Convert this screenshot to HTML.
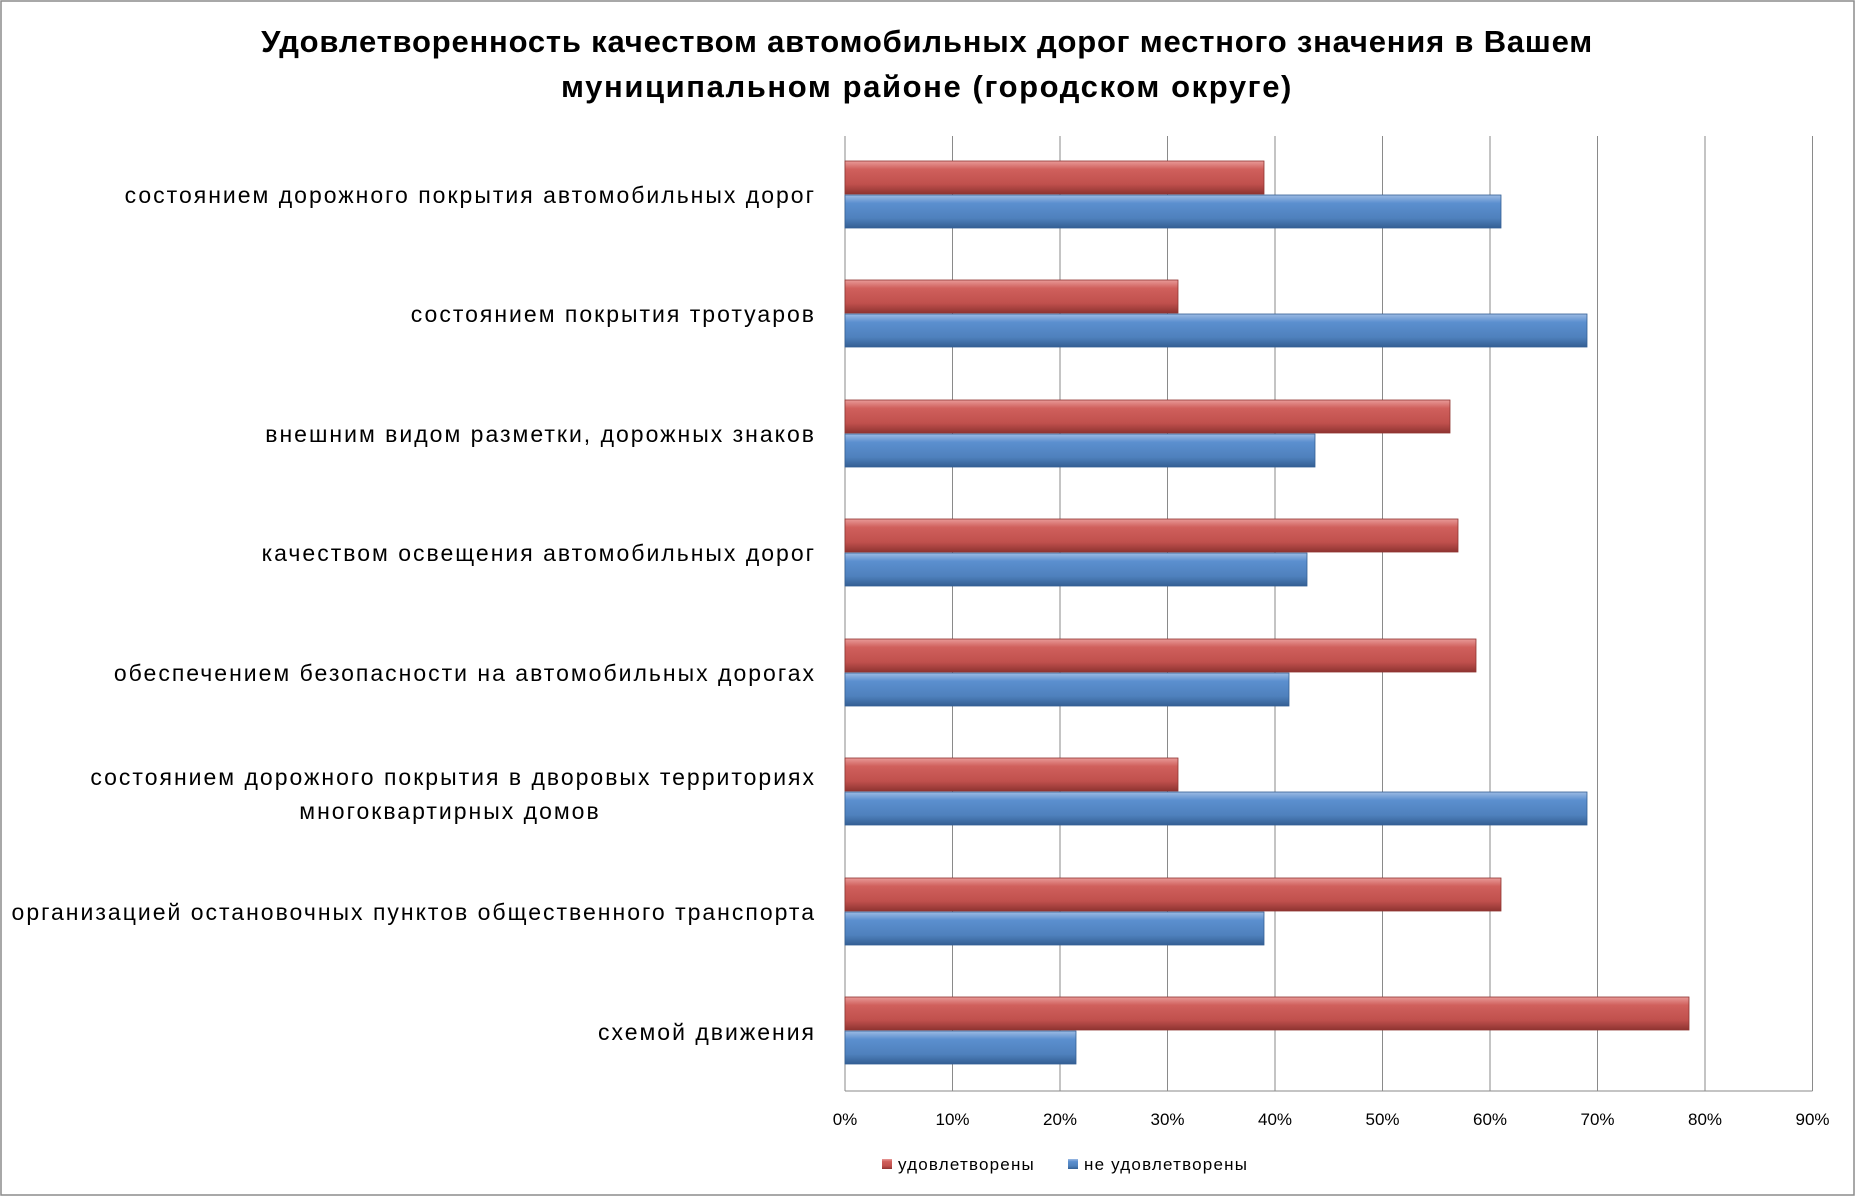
<!DOCTYPE html>
<html><head><meta charset="utf-8"><style>
html,body{margin:0;padding:0;background:#fff}
svg{display:block}
text{font-family:"Liberation Sans","DejaVu Sans",sans-serif}
</style></head><body>
<svg width="1855" height="1196" viewBox="0 0 1855 1196" xmlns="http://www.w3.org/2000/svg">
<defs>
<linearGradient id="r" x1="0" y1="0" x2="0" y2="1">
<stop offset="0" stop-color="#e89a98"/><stop offset="0.25" stop-color="#d0605c"/><stop offset="0.7" stop-color="#c0504d"/><stop offset="1" stop-color="#8f3431"/></linearGradient>
<linearGradient id="b" x1="0" y1="0" x2="0" y2="1">
<stop offset="0" stop-color="#9dbbe3"/><stop offset="0.25" stop-color="#5b8fcf"/><stop offset="0.7" stop-color="#4f81bd"/><stop offset="1" stop-color="#345f94"/></linearGradient>
</defs>
<rect x="1" y="1" width="1853" height="1194" fill="#fff" stroke="#8c8c8c" stroke-width="1.5"/>
<text x="927" y="52" font-size="31" font-weight="bold" text-anchor="middle" letter-spacing="0.8">Удовлетворенность качеством автомобильных дорог местного значения в Вашем</text>
<text x="927" y="97" font-size="31" font-weight="bold" text-anchor="middle" letter-spacing="1.6">муниципальном районе (городском округе)</text>
<g stroke="#8a8a8a" stroke-width="1">
<line x1="845" y1="136" x2="845" y2="1091"/>
<line x1="952.5" y1="136" x2="952.5" y2="1091"/>
<line x1="1060" y1="136" x2="1060" y2="1091"/>
<line x1="1167.5" y1="136" x2="1167.5" y2="1091"/>
<line x1="1275" y1="136" x2="1275" y2="1091"/>
<line x1="1382.5" y1="136" x2="1382.5" y2="1091"/>
<line x1="1490" y1="136" x2="1490" y2="1091"/>
<line x1="1597.5" y1="136" x2="1597.5" y2="1091"/>
<line x1="1705" y1="136" x2="1705" y2="1091"/>
<line x1="1812.5" y1="136" x2="1812.5" y2="1091"/>
<line x1="845" y1="1091" x2="1812.5" y2="1091"/>
</g>
<g font-size="17" text-anchor="middle" fill="#000">
<text x="845" y="1125">0%</text><text x="952.5" y="1125">10%</text><text x="1060" y="1125">20%</text><text x="1167.5" y="1125">30%</text><text x="1275" y="1125">40%</text><text x="1382.5" y="1125">50%</text><text x="1490" y="1125">60%</text><text x="1597.5" y="1125">70%</text><text x="1705" y="1125">80%</text><text x="1812.5" y="1125">90%</text>
</g>
<g stroke-width="0.8">
<rect x="845" y="161" width="419" height="33" fill="url(#r)" stroke="#8f3431"/>
<rect x="845" y="195" width="656" height="33" fill="url(#b)" stroke="#345f94"/>
<rect x="845" y="280" width="333" height="33" fill="url(#r)" stroke="#8f3431"/>
<rect x="845" y="314" width="742" height="33" fill="url(#b)" stroke="#345f94"/>
<rect x="845" y="400" width="605" height="33" fill="url(#r)" stroke="#8f3431"/>
<rect x="845" y="434" width="470" height="33" fill="url(#b)" stroke="#345f94"/>
<rect x="845" y="519" width="613" height="33" fill="url(#r)" stroke="#8f3431"/>
<rect x="845" y="553" width="462" height="33" fill="url(#b)" stroke="#345f94"/>
<rect x="845" y="639" width="631" height="33" fill="url(#r)" stroke="#8f3431"/>
<rect x="845" y="673" width="444" height="33" fill="url(#b)" stroke="#345f94"/>
<rect x="845" y="758" width="333" height="33" fill="url(#r)" stroke="#8f3431"/>
<rect x="845" y="792" width="742" height="33" fill="url(#b)" stroke="#345f94"/>
<rect x="845" y="878" width="656" height="33" fill="url(#r)" stroke="#8f3431"/>
<rect x="845" y="912" width="419" height="33" fill="url(#b)" stroke="#345f94"/>
<rect x="845" y="997" width="844" height="33" fill="url(#r)" stroke="#8f3431"/>
<rect x="845" y="1031" width="231" height="33" fill="url(#b)" stroke="#345f94"/>
</g>
<g font-size="23" text-anchor="end" fill="#000" letter-spacing="2">
<text x="816" y="203">состоянием дорожного покрытия автомобильных дорог</text>
<text x="816" y="322">состоянием покрытия тротуаров</text>
<text x="816" y="442">внешним видом разметки, дорожных знаков</text>
<text x="816" y="561">качеством освещения автомобильных дорог</text>
<text x="816" y="681">обеспечением безопасности на автомобильных дорогах</text>
<text x="816" y="785">состоянием дорожного покрытия в дворовых территориях</text>
<text x="450" y="819" text-anchor="middle">многоквартирных домов</text>
<text x="816" y="920">организацией остановочных пунктов общественного транспорта</text>
<text x="816" y="1040">схемой движения</text>
</g>
<rect x="882" y="1159" width="10" height="10" fill="url(#r)"/>
<text x="898" y="1170" font-size="17" letter-spacing="1.2">удовлетворены</text>
<rect x="1068" y="1159" width="10" height="10" fill="url(#b)"/>
<text x="1084" y="1170" font-size="17" letter-spacing="1.2">не удовлетворены</text>
</svg>
</body></html>
